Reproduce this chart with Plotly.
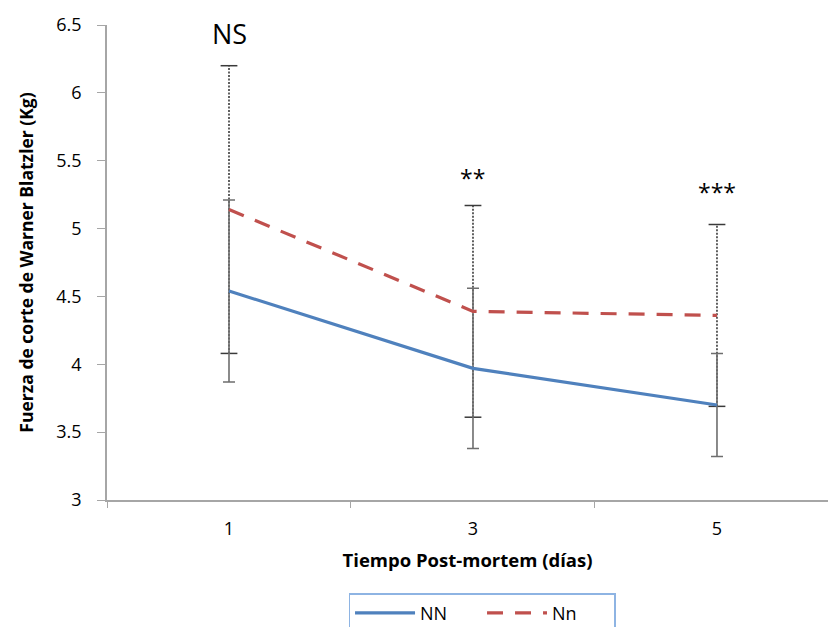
import plotly.graph_objects as go

days = ["1", "3", "5"]
nn_mean = [4.54, 3.97, 3.70]
nn_err = [0.67, 0.59, 0.38]
nnx_mean = [5.14, 4.39, 4.36]
nnx_err = [1.06, 0.78, 0.67]
sig_labels = ["NS", "**", "***"]
sig_y = [6.44, 5.37, 5.27]
sig_size = [27, 23, 23]

BLUE = "#4F81BD"
RED = "#C0504D"
FONT = "Open Sans"

fig = go.Figure()

# Nn error bars: dotted stems + caps
stem_x, stem_y = [], []
cap_x, cap_y = [], []
for d, m, e in zip(days, nnx_mean, nnx_err):
    stem_x += [d, d, None]
    stem_y += [m - e, m + e, None]
    cap_x += [d, d]
    cap_y += [m - e, m + e]
fig.add_trace(go.Scatter(x=stem_x, y=stem_y, mode="lines",
                         line=dict(color="#3a3a3a", width=1.6, dash="2px,1.5px"),
                         showlegend=False, hoverinfo="skip"))
fig.add_trace(go.Scatter(x=cap_x, y=cap_y, mode="markers",
                         marker=dict(symbol="line-ew", size=12,
                                     line=dict(color="#3a3a3a", width=1.5)),
                         showlegend=False, hoverinfo="skip"))

# NN error bars: solid gray
fig.add_trace(go.Scatter(x=days, y=nn_mean, mode="markers",
                         marker=dict(size=1, color="rgba(0,0,0,0)"),
                         error_y=dict(type="data", array=nn_err, visible=True,
                                      color="#6e6e6e", thickness=1.6, width=6),
                         showlegend=False, hoverinfo="skip"))

fig.add_trace(go.Scatter(x=days, y=nn_mean, mode="lines", name="NN",
                         line=dict(color=BLUE, width=3.2)))
fig.add_trace(go.Scatter(x=days, y=nnx_mean, mode="lines", name="Nn",
                         line=dict(color=RED, width=3.2, dash="16px,12px")))

for i, (t, y, s) in enumerate(zip(sig_labels, sig_y, sig_size)):
    fig.add_annotation(x=i, y=y, text=t, showarrow=False,
                       font=dict(family=FONT, size=s, color="#000"))

fig.update_layout(
    width=828, height=627,
    margin=dict(l=107, r=0, t=25, b=127, autoexpand=False),
    paper_bgcolor="white", plot_bgcolor="white",
    font=dict(family=FONT, color="#000"),
    showlegend=True,
    legend=dict(orientation="h", x=0.335, xanchor="left", y=-0.196, yanchor="top",
                bordercolor="#8EB4E3", borderwidth=1.5,
                font=dict(family=FONT, size=18, color="#000"),
                itemwidth=60, entrywidth=57, tracegroupgap=0),
)
fig.update_xaxes(type="category", range=[-0.5, 2.455],
                 showline=True, linecolor="#A6A6A6", linewidth=1.5,
                 ticks="outside", tickson="boundaries", ticklen=6, tickcolor="#A6A6A6",
                 showgrid=False, zeroline=False, ticklabelstandoff=12,
                 tickfont=dict(family=FONT, size=18),
                 title=dict(text="<b>Tiempo Post-mortem (días)</b>",
                            font=dict(family=FONT, size=18.5), standoff=15))
fig.update_yaxes(range=[3, 6.5], tickvals=[3, 3.5, 4, 4.5, 5, 5.5, 6, 6.5],
                 ticktext=["3", "3.5", "4", "4.5", "5", "5.5", "6", "6.5"],
                 showline=True, linecolor="#A6A6A6", linewidth=1.5,
                 ticks="outside", ticklen=8, tickcolor="#A6A6A6",
                 showgrid=False, zeroline=False, ticklabelstandoff=12,
                 tickfont=dict(family=FONT, size=18),
                 title=dict(text="<b>Fuerza de corte de Warner Blatzler (Kg)</b>",
                            font=dict(family=FONT, size=17.5), standoff=18))

fig.write_html("out.html")
